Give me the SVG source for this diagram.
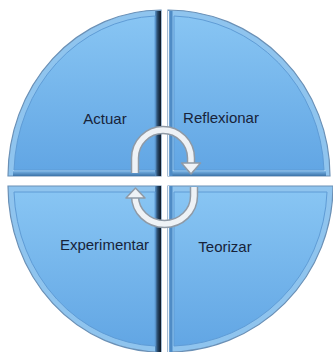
<svg xmlns="http://www.w3.org/2000/svg" width="333" height="352" viewBox="0 0 333 352">
<style>
.rim{fill:#8fc4ee;stroke:#6a90b6;stroke-width:1.2}
.face{fill:url(#face);stroke:#5f9cd6;stroke-width:1}
.lbl{font-family:"Liberation Sans",Arial,sans-serif;font-size:15px;fill:#17233a}
.ringO{fill:none;stroke:#8f9aa6;stroke-width:8.5}
.ringI{fill:none;stroke:#eef2f6;stroke-width:5.5}
</style>
<defs>
<linearGradient id="face" x1="0" y1="0" x2="0" y2="1">
<stop offset="0" stop-color="#88c5f3"/>
<stop offset="1" stop-color="#62a6e4"/>
</linearGradient>
<linearGradient id="darkR" x1="0" y1="0" x2="1" y2="0">
<stop offset="0" stop-color="#5a95cd"/>
<stop offset="0.45" stop-color="#284868"/>
<stop offset="1" stop-color="#0c1624"/>
</linearGradient>
<linearGradient id="botBev" x1="0" y1="0" x2="0" y2="1">
<stop offset="0" stop-color="#b9dcf6"/>
<stop offset="0.3" stop-color="#6ea9dc"/>
<stop offset="1" stop-color="#3c73a8"/>
</linearGradient>
</defs>
<rect width="333" height="352" fill="#ffffff"/>
<g id="q-actuar">
<path class="rim" d="M161,176 L8,176 A153,166 0 0 1 161,10 Z"/>
<rect x="13" y="170" width="148" height="6" fill="url(#botBev)"/>
<rect x="155" y="11" width="6" height="165" fill="url(#darkR)"/>
<path class="face" d="M155,170 L14,170 A147,160 0 0 1 155,16 Z"/>
<text class="lbl" x="105" y="124" text-anchor="middle">Actuar</text>
</g>
<g id="q-reflexionar">
<path class="rim" d="M168,176 L168,10 A162,166 0 0 1 330,176 Z"/>
<rect x="168" y="170" width="158" height="6" fill="url(#botBev)"/>
<rect x="168.5" y="11" width="4" height="165" fill="#4f8cc6"/>
<rect x="168" y="11" width="1.2" height="165" fill="#eef6fd"/>
<path class="face" d="M174,170 L174,16 A156,160 0 0 1 324,170 Z"/>
<text class="lbl" x="221" y="123" text-anchor="middle">Reflexionar</text>
</g>
<g id="q-experimentar">
<path class="rim" d="M161,186 L8,186 A153,166 0 0 0 161,352 Z"/>
<rect x="155" y="186" width="6" height="166" fill="url(#darkR)"/>
<path class="face" d="M155,192 L14,192 A147,160 0 0 0 155,346 Z"/>
<text class="lbl" x="104.5" y="250" text-anchor="middle">Experimentar</text>
</g>
<g id="q-teorizar">
<path class="rim" d="M168,186 L333,186 A165,166 0 0 1 168,352 Z"/>
<rect x="168.5" y="186" width="4" height="166" fill="#4f8cc6"/>
<rect x="168" y="186" width="1.2" height="166" fill="#eef6fd"/>
<path class="face" d="M174,192 L327,192 A159,160 0 0 1 174,346 Z"/>
<text class="lbl" x="225" y="252" text-anchor="middle">Teorizar</text>
</g>
<g id="connectors">
<path class="ringO" d="M135,173 L135,158 A28,28 0 0 1 191,158 L191,164"/>
<path class="ringI" d="M135,173 L135,158 A28,28 0 0 1 191,158 L191,164"/>
<polygon points="181.5,163 200.5,163 191,174" fill="#eef2f6" stroke="#8f9aa6" stroke-width="1.5" stroke-linejoin="round"/>
<path class="ringO" d="M194,187 L194,196 A29.5,28 0 0 1 135,196 L135,198"/>
<path class="ringI" d="M194,187 L194,196 A29.5,28 0 0 1 135,196 L135,198"/>
<polygon points="126,198 145,198 135.5,188" fill="#eef2f6" stroke="#8f9aa6" stroke-width="1.5" stroke-linejoin="round"/>
</g>
</svg>
